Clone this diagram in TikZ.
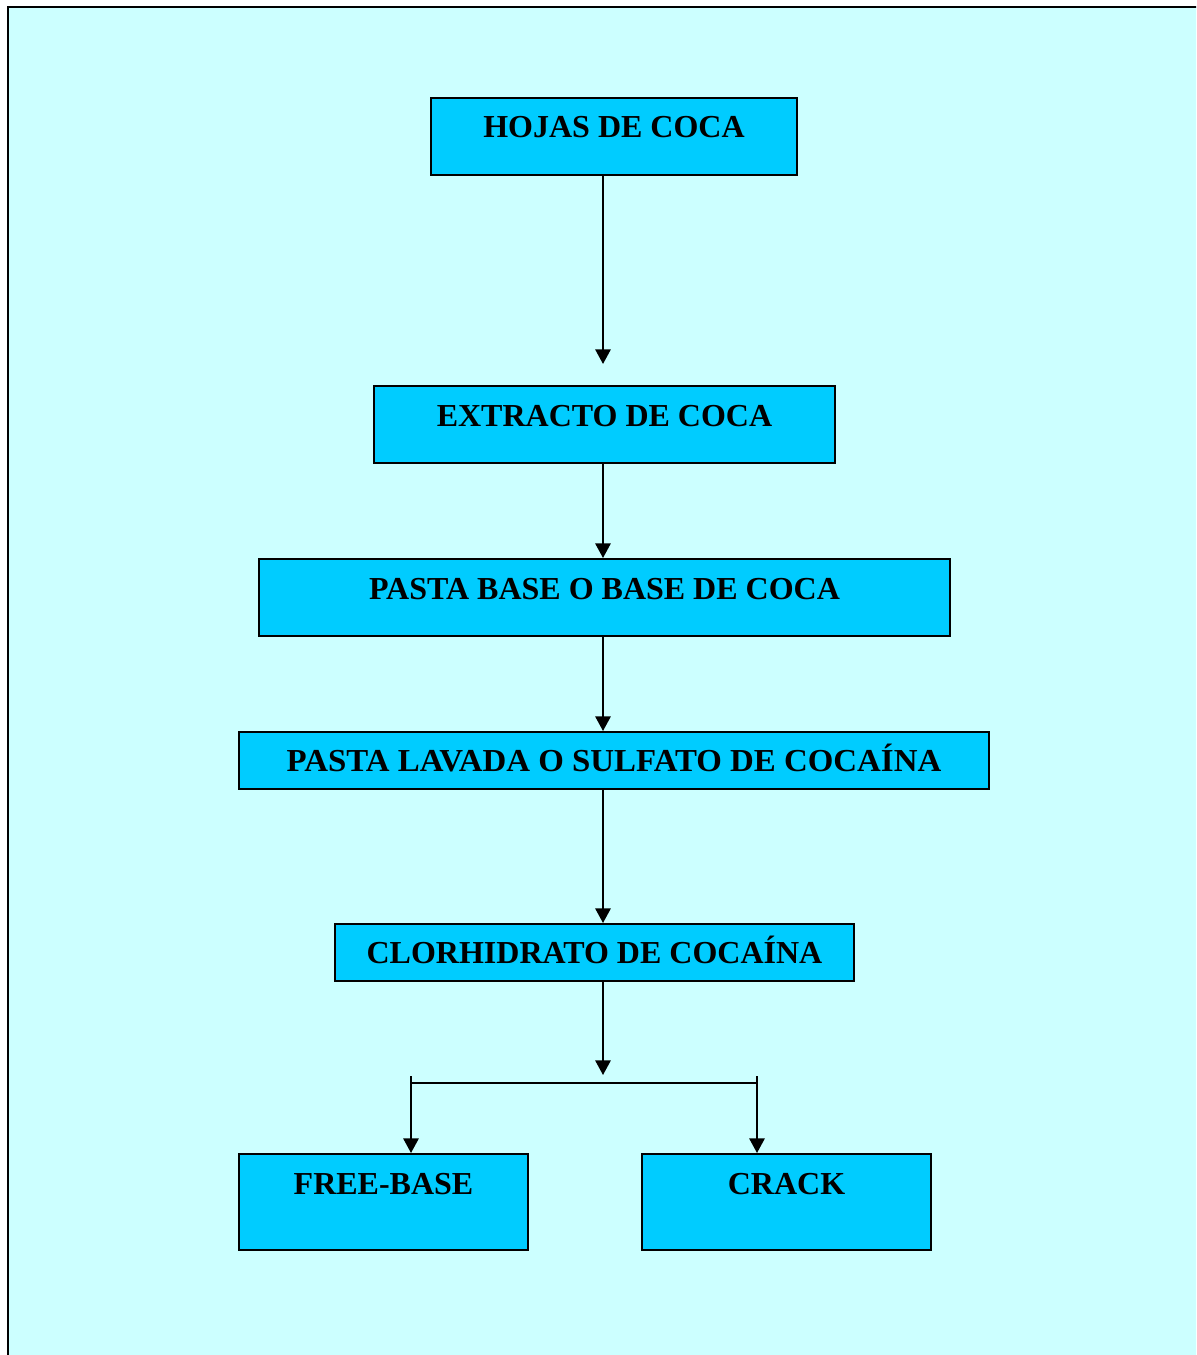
\documentclass[tikz,border=0pt]{standalone}
\usepackage{fontspec}
\setmainfont{Liberation Serif}
\usetikzlibrary{arrows.meta,calc}
\definecolor{bgcyan}{HTML}{CCFFFF}
\definecolor{boxcyan}{HTML}{00CCFF}
\begin{document}
\begin{tikzpicture}[x=0.75pt,y=-0.75pt,
  stepbox/.style={draw=black,line width=1.5pt,fill=boxcyan,inner sep=0pt,anchor=north west},
  lbl/.style={font=\fontsize{24}{28}\selectfont\bfseries,anchor=base,inner sep=0pt},
  arr/.style={line width=1.5pt,-{Triangle[width=11.5pt,length=11pt]}},
  ln/.style={line width=1.5pt}]
\useasboundingbox (0,0) rectangle (1196,1355);
\begin{scope}
\clip (0,0) rectangle (1196,1355);
\draw[line width=2pt,fill=bgcyan] (8,7) rectangle (1210,1370);
\end{scope}
\coordinate (axis) at (603,0);
% boxes
\node[stepbox,minimum width={366*0.75pt},minimum height={77*0.75pt}] (hojas) at (430,97) {};
\node[stepbox,minimum width={461*0.75pt},minimum height={77*0.75pt}] (extracto) at (373,385) {};
\node[stepbox,minimum width={691*0.75pt},minimum height={77*0.75pt}] (pasta) at (258,558) {};
\node[stepbox,minimum width={750*0.75pt},minimum height={57*0.75pt}] (lavada) at (238,731) {};
\node[stepbox,minimum width={519*0.75pt},minimum height={57*0.75pt}] (clor) at (334,923) {};
\node[stepbox,minimum width={289*0.75pt},minimum height={96*0.75pt}] (free) at (238,1153) {};
\node[stepbox,minimum width={289*0.75pt},minimum height={96*0.75pt}] (crack) at (641,1153) {};
% labels
\node[lbl] (thojas) at ($(hojas.north)+(0,41)$) {HOJAS DE COCA};
\node[lbl] (textracto) at ($(extracto.north)+(0,41)$) {EXTRACTO DE COCA};
\node[lbl] (tpasta) at ($(pasta.north)+(0,41)$) {PASTA BASE O BASE DE COCA};
\node[lbl] (tlavada) at ($(lavada.north)+(0,40)$) {\scalebox{1.028}[1]{PASTA LAVADA O SULFATO DE COCAÍNA}};
\node[lbl] (tclor) at ($(clor.north)+(0,40)$) {CLORHIDRATO DE COCAÍNA};
\node[lbl] (tfree) at ($(free.north)+(0,41)$) {FREE-BASE};
\node[lbl] (tcrack) at ($(crack.north)+(0,41)$) {CRACK};
% connectors
\draw[arr,shorten >=15.75pt] (axis |- hojas.south) -- (axis |- extracto.north);
\draw[arr] (axis |- extracto.south) -- (axis |- pasta.north);
\draw[arr] (axis |- pasta.south) -- (axis |- lavada.north);
\draw[arr] (axis |- lavada.south) -- (axis |- clor.north);
\coordinate (split) at (603,1075);
\draw[arr] (axis |- clor.south) -- (split);
\coordinate (bl) at (411,1076);
\coordinate (br) at (757,1076);
\draw[ln] (411,1083) -- (757,1083);
\draw[arr] (bl) -- (bl |- free.north);
\draw[arr] (br) -- (br |- crack.north);
\end{tikzpicture}
\end{document}
